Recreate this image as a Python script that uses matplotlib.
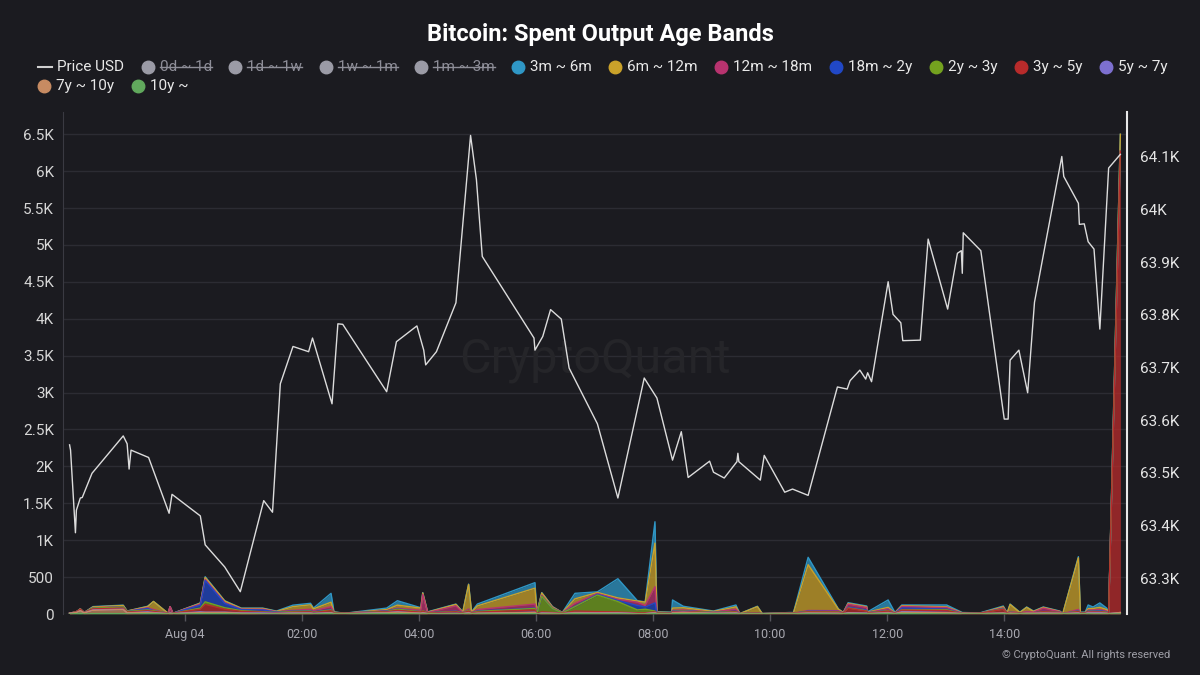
# Bitcoin: Spent Output Age Bands - dark CryptoQuant style chart
import numpy as np
import matplotlib
matplotlib.use("Agg")
import matplotlib.pyplot as plt
from matplotlib.lines import Line2D

plt.rcParams['font.family'] = ['Roboto', 'DejaVu Sans']

# ---- price (right axis), times HH:MM, 22:xx / 23:xx are Aug 03 ----
price_times = [
    "22:02", "22:03", "22:08", "22:09", "22:13", "22:15", "22:25", "22:57", "23:01", "23:03", "23:05", "23:23", "23:44", "23:47",
    "00:16", "00:21", "00:41", "00:57", "01:21", "01:30", "01:38", "01:51", "02:07", "02:11", "02:31", "02:37", "02:42", "03:27", "03:37", "03:58",
    "04:05", "04:07", "04:18", "04:38", "04:53", "04:59", "05:05", "05:58", "05:59", "06:07", "06:15", "06:26", "06:34", "07:03", "07:24", "07:51",
    "08:04", "08:20", "08:29", "08:36", "08:58", "09:02", "09:13", "09:26", "09:27", "09:28", "09:50", "09:54", "10:15", "10:23", "10:39",
    "11:09", "11:19", "11:22", "11:32", "11:38", "11:40", "11:44", "12:01", "12:06", "12:14", "12:16", "12:34", "12:42",
    "13:02", "13:12", "13:16", "13:17", "13:18", "13:36", "14:00", "14:04", "14:06", "14:15", "14:24", "14:31", "14:59", "15:01",
    "15:16", "15:17", "15:22", "15:26", "15:32", "15:38", "15:47", "15:59",
]
price_usd = [
    63553, 63543, 63386, 63429, 63452, 63453, 63499, 63570, 63555, 63507, 63543, 63529, 63423, 63459,
    63418, 63363, 63321, 63274, 63447, 63425, 63669, 63740, 63730, 63756, 63631, 63783, 63782, 63654, 63749, 63779,
    63733, 63705, 63730, 63823, 64141, 64057, 63911, 63756, 63733, 63759, 63810, 63792, 63699, 63593, 63452, 63680,
    63642, 63524, 63578, 63491, 63522, 63501, 63490, 63521, 63537, 63521, 63486, 63533, 63463, 63469, 63457,
    63663, 63659, 63675, 63695, 63678, 63690, 63673, 63863, 63801, 63785, 63751, 63752, 63944,
    63811, 63917, 63922, 63879, 63956, 63922, 63602, 63602, 63714, 63733, 63652, 63824, 64101, 64063,
    64012, 63972, 63973, 63939, 63925, 63773, 64079, 64105,
]

# ---- spent output age bands (left axis, stacked) ----
band_times = [
    "22:02", "22:09", "22:13", "22:17", "22:26", "22:57", "23:01", "23:22", "23:28", "23:43", "23:45", "23:48",
    "00:16", "00:21", "00:41", "00:58", "01:20", "01:34", "01:51", "02:09", "02:12", "02:30", "02:33", "02:44",
    "03:27", "03:38", "04:02", "04:04", "04:09", "04:38", "04:45", "04:51", "04:54", "05:00", "05:59", "06:01",
    "06:06", "06:17", "06:27", "06:40", "07:03", "07:24", "07:44", "07:52", "08:02", "08:04", "08:19", "08:20",
    "08:31", "09:02", "09:25", "09:29", "09:47", "09:52", "10:20", "10:24", "10:39", "11:10", "11:15", "11:20",
    "11:39", "11:40", "12:01", "12:08", "12:15", "13:01", "13:17", "13:35", "13:59", "14:03", "14:06", "14:16",
    "14:23", "14:30", "14:40", "14:57", "15:00", "15:16", "15:18", "15:23", "15:26", "15:31", "15:38", "15:45", "15:47", "15:59",
]
band_3m_6m = [
    0, 0, 0, 0, 5, 5, 0, 5, 0, 0, 0, 0,
    5, 10, 5, 5, 5, 5, 20, 20, 10, 120, 5, 0,
    20, 60, 5, 5, 5, 5, 5, 5, 5, 25, 75, 0,
    5, 5, 0, 75, 8, 260, 5, 5, 290, 5, 5, 110,
    20, 5, 25, 0, 5, 0, 5, 5, 100, 5, 0, 10,
    10, 5, 100, 5, 10, 25, 5, 5, 10, 0, 5, 5,
    5, 5, 5, 5, 0, 15, 5, 5, 50, 20, 60, 20, 5, 0,
]
band_6m_12m = [
    0, 0, 5, 0, 10, 15, 5, 15, 110, 0, 0, 0,
    10, 25, 20, 10, 10, 5, 50, 60, 25, 60, 5, 0,
    15, 40, 30, 20, 5, 20, 5, 330, 5, 50, 215, 5,
    30, 10, 0, 60, 15, 20, 15, 45, 590, 5, 5, 30,
    30, 10, 30, 0, 85, 0, 5, 5, 620, 20, 5, 10,
    10, 5, 20, 5, 10, 10, 5, 0, 15, 0, 95, 5,
    55, 10, 10, 5, 0, 700, 5, 5, 20, 20, 30, 20, 5, 230,
]
band_12m_18m = [
    0, 0, 0, 0, 5, 5, 0, 10, 15, 0, 80, 0,
    15, 15, 10, 5, 10, 5, 10, 20, 15, 40, 5, 0,
    5, 10, 20, 220, 5, 70, 5, 20, 5, 20, 55, 5,
    15, 10, 5, 40, 10, 15, 45, 20, 220, 5, 5, 10,
    10, 5, 30, 0, 5, 0, 0, 0, 10, 10, 5, 40,
    35, 5, 20, 0, 20, 20, 5, 0, 10, 5, 10, 5,
    15, 10, 45, 10, 0, 20, 5, 5, 10, 15, 15, 10, 5, 0,
]
band_18m_2y = [
    0, 0, 0, 0, 0, 0, 0, 20, 0, 0, 0, 0,
    40, 290, 60, 15, 25, 5, 5, 5, 5, 5, 0, 0,
    5, 5, 0, 0, 0, 5, 0, 0, 0, 5, 5, 0,
    0, 0, 0, 5, 10, 15, 60, 30, 110, 0, 0, 5,
    5, 0, 5, 0, 0, 0, 0, 0, 5, 5, 0, 10,
    10, 0, 5, 0, 25, 10, 0, 0, 5, 0, 0, 0,
    0, 0, 5, 0, 0, 5, 0, 0, 5, 5, 10, 5, 0, 0,
]
band_2y_3y = [
    0, 0, 0, 0, 10, 15, 10, 10, 10, 0, 0, 0,
    15, 35, 20, 10, 5, 5, 10, 10, 5, 10, 5, 0,
    5, 15, 5, 5, 5, 5, 5, 10, 5, 10, 20, 5,
    210, 55, 5, 60, 225, 140, 40, 50, 10, 5, 0, 5,
    5, 5, 5, 0, 0, 0, 0, 0, 5, 5, 0, 5,
    5, 5, 5, 0, 5, 10, 0, 0, 5, 0, 5, 0,
    5, 0, 0, 0, 0, 5, 0, 0, 5, 5, 5, 5, 0, 0,
]
band_3y_5y = [
    0, 10, 20, 5, 15, 15, 10, 15, 15, 5, 5, 5,
    35, 105, 40, 20, 10, 5, 10, 15, 10, 25, 5, 5,
    10, 20, 15, 20, 5, 20, 5, 20, 5, 15, 30, 5,
    15, 10, 5, 20, 15, 10, 10, 10, 10, 5, 5, 10,
    10, 5, 10, 0, 5, 0, 5, 5, 15, 15, 5, 60,
    25, 5, 20, 5, 20, 25, 0, 5, 50, 5, 10, 5,
    5, 5, 15, 10, 0, 15, 5, 5, 10, 10, 10, 10, 5, 6250,
]
band_5y_7y = [
    0, 0, 0, 0, 5, 5, 0, 10, 5, 0, 5, 0,
    10, 5, 5, 5, 10, 5, 5, 5, 5, 5, 0, 0,
    5, 5, 0, 5, 0, 5, 0, 5, 0, 0, 5, 0,
    5, 0, 0, 5, 5, 5, 0, 0, 5, 0, 0, 5,
    5, 0, 5, 0, 0, 0, 0, 0, 0, 0, 0, 5,
    5, 0, 5, 0, 10, 5, 0, 0, 0, 0, 0, 0,
    0, 0, 5, 0, 0, 5, 0, 0, 10, 10, 10, 0, 0, 0,
]
band_7y_10y = [
    10, 15, 35, 15, 45, 55, 15, 15, 10, 5, 10, 5,
    15, 15, 15, 10, 5, 5, 10, 10, 5, 10, 5, 5,
    10, 20, 10, 15, 5, 5, 5, 15, 5, 10, 15, 0,
    10, 10, 5, 10, 10, 10, 5, 5, 10, 5, 5, 10,
    15, 5, 10, 5, 5, 5, 5, 5, 10, 10, 5, 10,
    5, 5, 10, 5, 15, 15, 5, 5, 10, 5, 10, 5,
    10, 10, 10, 10, 5, 10, 5, 5, 10, 10, 10, 10, 5, 20,
]
band_10y = [
    0, 5, 10, 0, 5, 5, 0, 5, 5, 0, 0, 0,
    5, 5, 5, 0, 0, 0, 0, 0, 0, 5, 0, 0,
    5, 5, 0, 0, 0, 0, 0, 0, 0, 0, 5, 0,
    0, 0, 0, 5, 2, 3, 0, 0, 5, 0, 0, 5,
    5, 5, 2, 0, 0, 0, 0, 0, 3, 0, 0, 3,
    3, 0, 5, 0, 7, 2, 0, 0, 3, 0, 0, 0,
    0, 0, 0, 0, 0, 2, 0, 0, 2, 0, 0, 0, 0, 0,
]

band_names = ["3m ~ 6m", "6m ~ 12m", "12m ~ 18m", "18m ~ 2y", "2y ~ 3y",
              "3y ~ 5y", "5y ~ 7y", "7y ~ 10y", "10y ~"]
band_colors = ["#2f97c6", "#caa22a", "#b8336f", "#2148c6", "#74a21f",
               "#b82b2b", "#7d70d0", "#c78b62", "#61a95d"]
hidden_names = ["0d ~ 1d", "1d ~ 1w", "1w ~ 1m", "1m ~ 3m"]

xtick_hours = [0, 2, 4, 6, 8, 10, 12, 14]
xtick_labels = ["Aug 04", "02:00", "04:00", "06:00", "08:00", "10:00", "12:00", "14:00"]


def to_hours(t):
    hh, mm = t.split(":")
    h = int(hh) + int(mm) / 60
    # 22:xx and 23:xx belong to the previous day
    return h - 24 if int(hh) >= 20 else h


def k_label(v):
    if v < 1000:
        return str(int(v))
    return f"{v / 1000:g}K"


BG = "#1b1b20"
W, H = 1200, 675

fig = plt.figure(figsize=(12, 6.75), dpi=100, facecolor=BG)
ax = fig.add_axes([63 / W, 1 - 614 / H, (1127 - 63) / W, (614 - 112) / H])
ax.set_facecolor(BG)

# stacked areas, first legend item is on top of the stack
tb = np.array([to_hours(t) for t in band_times])
bands = [band_3m_6m, band_6m_12m, band_12m_18m, band_18m_2y, band_2y_3y,
         band_3y_5y, band_5y_7y, band_7y_10y, band_10y]
base = np.zeros(len(tb))
tops = []
for vals, col in reversed(list(zip(bands, band_colors))):
    top = base + np.array(vals, dtype=float)
    ax.fill_between(tb, base, top, color=col, alpha=0.75, lw=0, zorder=2)
    tops.append((top, col))
    base = top
# edge lines: upper series first so lower ones win where they coincide
for top, col in reversed(tops):
    ax.plot(tb, top, color=col, lw=1, zorder=3)

ax.set_xlim(-2.079, 16.097)
ax.set_ylim(0, 6802)
yt = np.arange(0, 7000, 500)
ax.set_yticks(yt)
ax.set_yticklabels([k_label(v) for v in yt])
ax.grid(axis="y", color="#2c2c33", lw=1)
ax.set_axisbelow(True)
ax.set_xticks(xtick_hours)
ax.set_xticklabels(xtick_labels)
ax.tick_params(axis="y", length=0, pad=6.5, labelcolor="#d6d6d6", labelsize=11)
ax.tick_params(axis="x", length=5, width=1, color="#55555c", labelcolor="#a8a8b0",
               labelsize=9, pad=5)
for s in ["top", "right", "bottom"]:
    ax.spines[s].set_visible(False)
ax.spines["left"].set_color("#3a3a42")

# watermark
ax.text(0.5, 0.506, "CryptoQuant", transform=ax.transAxes, fontsize=35,
        color="#252529", ha="center", va="center", zorder=1)

# price line on the right axis
ax2 = ax.twinx()
tp = np.array([to_hours(t) for t in price_times])
ax2.plot(tp, price_usd, color="#dcdcdc", lw=1.0, zorder=4)
ax2.set_ylim(63231.6, 64185.5)
pt = np.arange(63300, 64101, 100)
ax2.set_yticks(pt)
ax2.set_yticklabels([k_label(v) for v in pt])
ax2.tick_params(axis="y", length=0, pad=9.5, labelcolor="#e6e6e6", labelsize=11)
for s in ["top", "left", "bottom"]:
    ax2.spines[s].set_visible(False)
ax2.spines["right"].set_color("#e8e8e8")
ax2.spines["right"].set_linewidth(1.5)

# title and footer
fig.text(0.5, 1 - 34 / H, "Bitcoin: Spent Output Age Bands", ha="center", va="center",
         fontsize=17, fontweight="bold", color="white")
fig.text(1170 / W, 1 - 655 / H, "\u00a9 CryptoQuant. All rights reserved", ha="right",
         va="center", fontsize=8, color="#a0a0a8")

# legend drawn by hand (two rows, hidden series are struck through)
renderer = fig.canvas.get_renderer()
items = [("Price USD", "#d0d0d0", "line")]
items += [(n, "#9b9ba6", "hidden") for n in hidden_names]
items += [(n, c, "dot") for n, c in zip(band_names, band_colors)]

x, y = 38, 67
for name, col, kind in items:
    text_x = x + (19 if kind == "line" else 18)
    t = fig.text(text_x / W, 1 - y / H, name, ha="left", va="center", fontsize=11,
                 color="#8e8e98" if kind == "hidden" else "#e8e8e8")
    tw = t.get_window_extent(renderer=renderer).width
    if text_x + tw > 1185:
        x, y = 38, y + 19
        text_x = x + (19 if kind == "line" else 18)
        t.set_position((text_x / W, 1 - y / H))
    if kind == "line":
        fig.add_artist(Line2D([x / W, (x + 14) / W], [1 - y / H, 1 - y / H],
                              color=col, lw=1.5, transform=fig.transFigure))
    else:
        fig.add_artist(Line2D([(x + 6) / W], [1 - y / H], marker="o", markersize=9,
                              color=col, lw=0, transform=fig.transFigure))
    if kind == "hidden":
        fig.add_artist(Line2D([text_x / W, (text_x + tw) / W], [1 - (y - 0.5) / H, 1 - (y - 0.5) / H],
                              color="#8e8e98", lw=1, transform=fig.transFigure))
    x = text_x + tw + 17.5

fig.savefig("out.png", dpi=100, facecolor=BG)
